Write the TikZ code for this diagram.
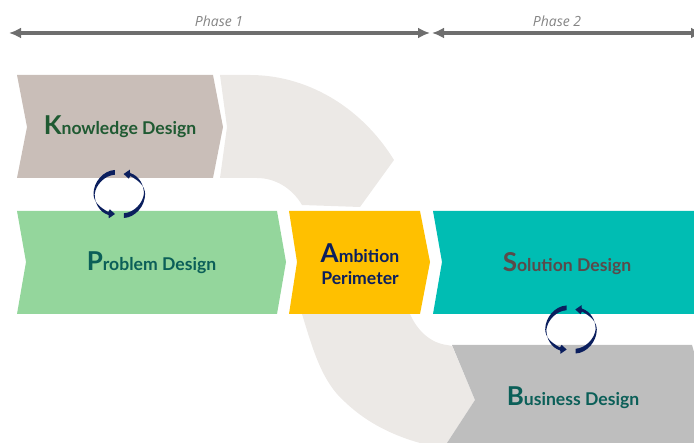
\documentclass[tikz,border=0pt]{standalone}
\usepackage{fontspec}
\setmainfont{Lato}
\newfontfamily\phasefont{Open Sans}
\usetikzlibrary{arrows.meta}
\definecolor{knowledgecol}{HTML}{C9BEB8}
\definecolor{bandcol}{HTML}{ECE9E6}
\definecolor{problemcol}{HTML}{94D69C}
\definecolor{ambitioncol}{HTML}{FFC000}
\definecolor{solutioncol}{HTML}{00BDB3}
\definecolor{businesscol}{HTML}{BEBEBE}
\definecolor{cyclecol}{HTML}{0B1F5E}
\definecolor{phasecol}{HTML}{6E6E6E}
\definecolor{knowledgetext}{HTML}{1F5A32}
\definecolor{designtext}{HTML}{0B5F58}
\definecolor{solutiontext}{HTML}{5A4A4A}
\newcommand{\bigfirst}[2]{{\fontsize{26}{26}\selectfont #1}#2}
\tikzset{
    title/.style={font=\fontsize{17.6}{22}\selectfont\bfseries,align=center,inner sep=0pt},
    phaseline/.style={{Latex[length=12pt,width=11pt]}-{Latex[length=12pt,width=11pt]},line width=3.6pt,phasecol},
    phaselabel/.style={font=\fontsize{14}{15}\selectfont\phasefont\itshape,text=phasecol!85,inner sep=0pt},
    halfcycle/.pic={
        \fill[cyclecol] (-4.5,-24) .. controls (-16,-23.5) and (-25.8,-12) .. (-25.8,0)
            .. controls (-25.5,8) and (-20,13) .. (-11,18)
            -- (-9.5,15.3) -- (-4.3,20) -- (-10.5,24.3) -- (-10.8,21)
            .. controls (-20,18) and (-24.8,9) .. (-24.6,0)
            .. controls (-23.5,-9) and (-15,-18.5) .. (-4.5,-19.3) -- cycle;
    },
    cycle/.pic={
        \pic {halfcycle};
        \pic[rotate=180] {halfcycle};
    }
}
\begin{document}
\begin{tikzpicture}[x=1pt,y=-1pt]
    \useasboundingbox (0,0) rectangle (694,443);
    % phases
    \coordinate (phaseAstart) at (9,33);
    \coordinate (phaseAend) at (430,33);
    \coordinate (phaseBstart) at (432,33);
    \coordinate (phaseBend) at (703,33);
    \begin{scope}
    \clip (0,0) rectangle (694,443);
    \draw[phaseline] (phaseAstart) -- (phaseAend);
    \draw[phaseline] (phaseBstart) -- (phaseBend);
    \end{scope}
    \node[phaselabel] (phaseone) at (219,21) {Phase 1};
    \node[phaselabel] (phasetwo) at (557,21) {Phase 2};
    % light bands
    \fill[bandcol] (220,75) -- (250,75) .. controls (305,75) and (360,105) .. (394,160)
        -- (360,207) -- (302,205) .. controls (292,188) and (275,178) .. (257,178)
        -- (220,178) -- (227,127) -- cycle;
    \fill[bandcol] (302,314) .. controls (313,350) and (322,382) .. (345,402)
        .. controls (368,424) and (395,436) .. (420,443) -- (447,443) -- (475,400)
        -- (452,346) -- (447,345) .. controls (430,343) and (417,330) .. (410,314) -- cycle;
    % chevrons
    \fill[knowledgecol] (17,75) -- (213,75) -- (223,127) -- (213,178) -- (17,178) -- (27,127) -- cycle;
    \fill[problemcol] (17,211) -- (277,211) -- (286,262) -- (277,314) -- (17,314) -- (26,262) -- cycle;
    \fill[ambitioncol] (289,211) -- (420,211) -- (430,262) -- (420,314) -- (289,314) -- (297,262) -- cycle;
    \fill[solutioncol] (433,211) -- (694,211) -- (694,314) -- (433,314) -- (442,262) -- cycle;
    \fill[businesscol] (452,345) -- (692,345) -- (694,352) -- (694,443) -- (447,443) -- (475,400) -- cycle;
    % titles
    \node[title,text=knowledgetext] (knowledge) at (120,127) {\bigfirst{K}{nowledge Design}};
    \node[title,text=designtext] (problem) at (151.5,263) {\bigfirst{P}{roblem Design}};
    \node[title,text=cyclecol] (ambition) at (360,264) {\bigfirst{A}{mbition}\\Perimeter};
    \node[title,text=solutiontext] (solution) at (567,264) {\bigfirst{S}{olution Design}};
    \node[title,text=designtext] (business) at (573,398) {\bigfirst{B}{usiness Design}};
    % cycles
    \pic at (119.3,194) {cycle};
    \pic at (571,329.5) {cycle};
\end{tikzpicture}
\end{document}
